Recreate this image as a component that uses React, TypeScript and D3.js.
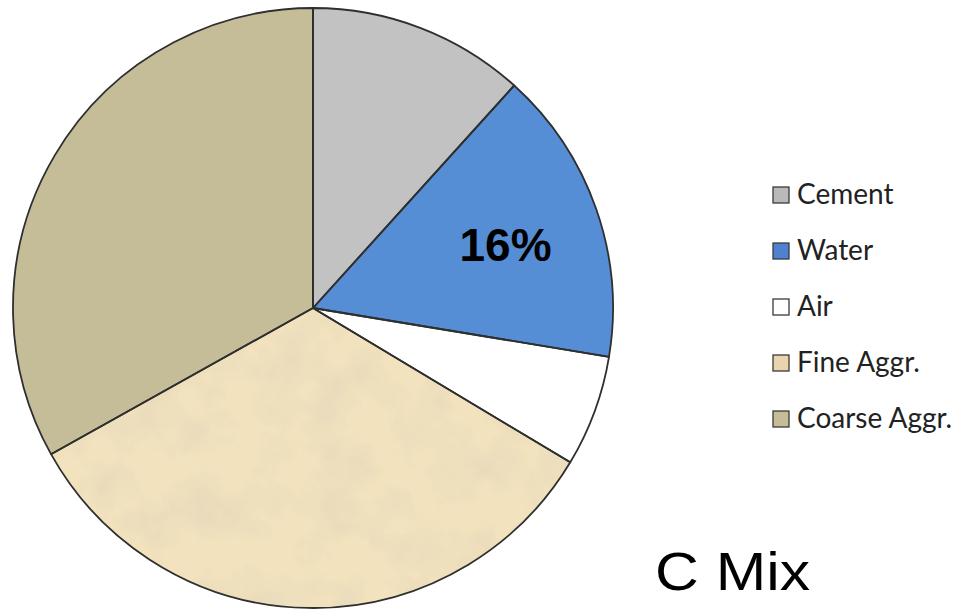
import React from 'react'
import * as d3 from 'd3'

// mix components of the C Mix, percent by volume
const categories = ['Cement', 'Water', 'Air', 'Fine Aggr.', 'Coarse Aggr.']
const values = [11.7, 15.9, 6.0, 33.3, 33.1]
const sliceColors = ['#c2c2c2', '#558ed5', '#ffffff', '#f2e2bd', '#c4bd97']
const legendColors = ['#b9b9b9', '#4f81d0', '#ffffff', '#e8d5ae', '#c4bd97']
const labelIndex = 1
const labelText = '16%'
const title = 'C Mix'

export default function App() {
  const width = 959
  const height = 611
  const cx = 313
  const cy = 308
  const r = 300

  const data = categories.map((c, i) => ({ name: c, value: values[i], color: sliceColors[i] }))
  const pie = d3.pie<any>().sort(null).value((d) => d.value).startAngle(0).endAngle(2 * Math.PI)
  const arcs = pie(data)
  const arc = d3.arc<any>().innerRadius(0).outerRadius(r)
  const labelArc = d3.arc<any>().innerRadius(r * 0.68).outerRadius(r * 0.68)

  const legendY = d3.scalePoint<string>().domain(categories).range([195, 419])

  const labelPos = labelArc.centroid(arcs[labelIndex])

  return (
    <svg width={width} height={height} style={{ position: 'absolute', left: 0, top: 0, background: '#fff' }}>
      <defs>
        <filter id="sand" x="0" y="0" width="100%" height="100%">
          <feTurbulence type="fractalNoise" baseFrequency="0.022" numOctaves="5" seed="7" result="noise" />
          <feColorMatrix in="noise" type="matrix"
            values="0 0 0 0 0.80  0 0 0 0 0.70  0 0 0 0 0.50  2.4 0 0 0 -1.0" result="spots" />
          <feComposite in="spots" in2="SourceGraphic" operator="in" result="clipped" />
          <feMerge>
            <feMergeNode in="SourceGraphic" />
            <feMergeNode in="clipped" />
          </feMerge>
        </filter>
      </defs>
      <g transform={`translate(${cx},${cy})`}>
        {arcs.map((a, i) => (
          <path key={'f' + i} d={arc(a) || ''} fill={a.data.color}
            filter={i === 3 ? 'url(#sand)' : undefined} />
        ))}
        {arcs.map((a, i) => (
          <path key={'s' + i} d={arc(a) || ''} fill="none" stroke="#2f2f2f" strokeWidth={1.8}
            strokeLinejoin="round" />
        ))}
        <text x={labelPos[0]} y={labelPos[1] + 4} textAnchor="middle" dominantBaseline="central"
          fontFamily="Liberation Sans, Arial, sans-serif" fontWeight="bold" fontSize={46} fill="#000">
          {labelText}
        </text>
      </g>
      <g>
        {categories.map((c, i) => {
          const y = legendY(c) as number
          return (
            <g key={c}>
              <rect x={773} y={y - 8} width={16} height={16} fill={legendColors[i]}
                stroke="#3a3a3a" strokeWidth={1.3} />
              <text x={797} y={y + 9} fontFamily="Lato, Carlito, Calibri, sans-serif" fontSize={28} fill="#222">
                {c}
              </text>
            </g>
          )
        })}
      </g>
      <text x={655} y={590} textLength={155} lengthAdjust="spacingAndGlyphs"
        fontFamily="Liberation Sans, Arial, sans-serif" fontSize={54} fill="#000">
        {title}
      </text>
    </svg>
  )
}
